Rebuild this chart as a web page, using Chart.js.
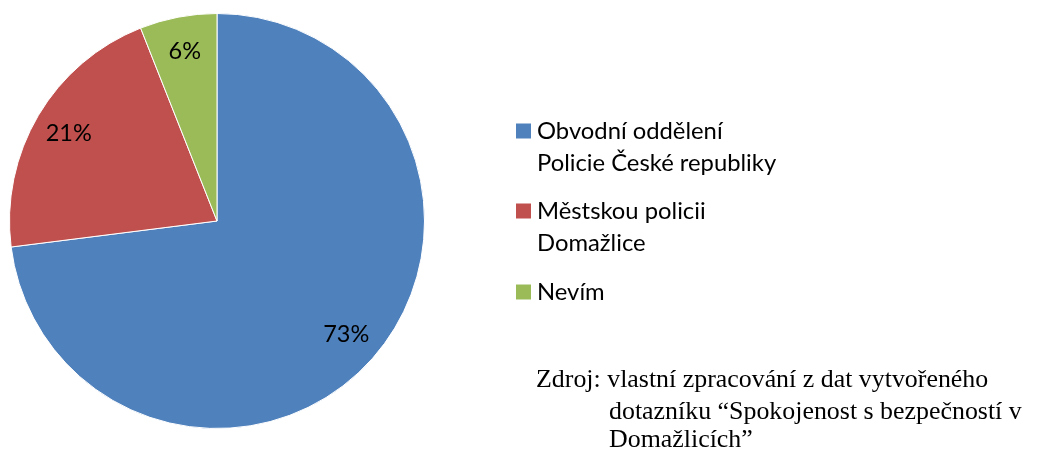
<!DOCTYPE html>
<html><head><meta charset="utf-8">
<script src="https://cdn.jsdelivr.net/npm/chart.js@4"></script>
<style>html,body{margin:0;padding:0;background:#fff;}#wrap{width:1040px;height:450px;position:relative;}</style>
</head><body><div id="wrap"><canvas id="c" width="1040" height="450"></canvas></div>
<script>
const categories = [["Obvodní oddělení", "Policie České republiky"], ["Městskou policii", "Domažlice"], ["Nevím"]];
const values = [73, 21, 6];
const colors = ["#4F81BD", "#C0504D", "#9BBB59"];
const sourceLines = ["Zdroj: vlastní zpracování z dat vytvořeného", "dotazníku \u201cSpokojenost s bezpečností v", "Domažlicích\u201d"];

const sansFont = "Lato, 'Open Sans', sans-serif";
const serifFont = "'Liberation Serif', 'DejaVu Serif', serif";

const overlay = {
  id: 'overlay',
  afterDatasetsDraw(chart) {
    const ctx = chart.ctx;
    const meta = chart.getDatasetMeta(0);
    const total = values.reduce((a, b) => a + b, 0);
    ctx.save();
    ctx.fillStyle = '#000';
    ctx.font = '23.5px ' + sansFont;
    ctx.textAlign = 'center';
    ctx.textBaseline = 'middle';
    meta.data.forEach((arc, i) => {
      const p = arc.getProps(['x', 'y', 'startAngle', 'endAngle', 'outerRadius'], true);
      const mid = (p.startAngle + p.endAngle) / 2;
      const r = p.outerRadius * 0.83;
      ctx.fillText(Math.round(values[i] / total * 100) + '%', p.x + Math.cos(mid) * r, p.y + Math.sin(mid) * r);
    });
    // legend
    ctx.font = '23.8px ' + sansFont;
    const lineCenters = [[131, 163], [211, 243], [292]];
    ctx.textAlign = 'left';
    categories.forEach((lines, i) => {
      const y0 = lineCenters[i][0];
      ctx.fillStyle = colors[i];
      ctx.fillRect(516, y0 - 7.5, 15, 15);
      ctx.fillStyle = '#000';
      lines.forEach((t, j) => ctx.fillText(t, 537, lineCenters[i][j]));
    });
    // source
    ctx.font = '25.9px ' + serifFont;
    const srcPos = [[536, 380], [609, 412], [609, 440]];
    sourceLines.forEach((t, j) => ctx.fillText(t, srcPos[j][0], srcPos[j][1]));
    ctx.restore();
  }
};

new Chart(document.getElementById('c'), {
  type: 'pie',
  data: {
    labels: categories.map(l => l.join(' ')),
    datasets: [{
      data: values,
      backgroundColor: colors,
      borderColor: '#ffffff',
      borderWidth: 1,
      hoverOffset: 0
    }]
  },
  options: {
    responsive: false,
    animation: false,
    layout: { padding: { left: 9, top: 13, right: 615, bottom: 21 } },
    plugins: { legend: { display: false }, tooltip: { enabled: false } }
  },
  plugins: [overlay]
});
</script>
</body></html>
